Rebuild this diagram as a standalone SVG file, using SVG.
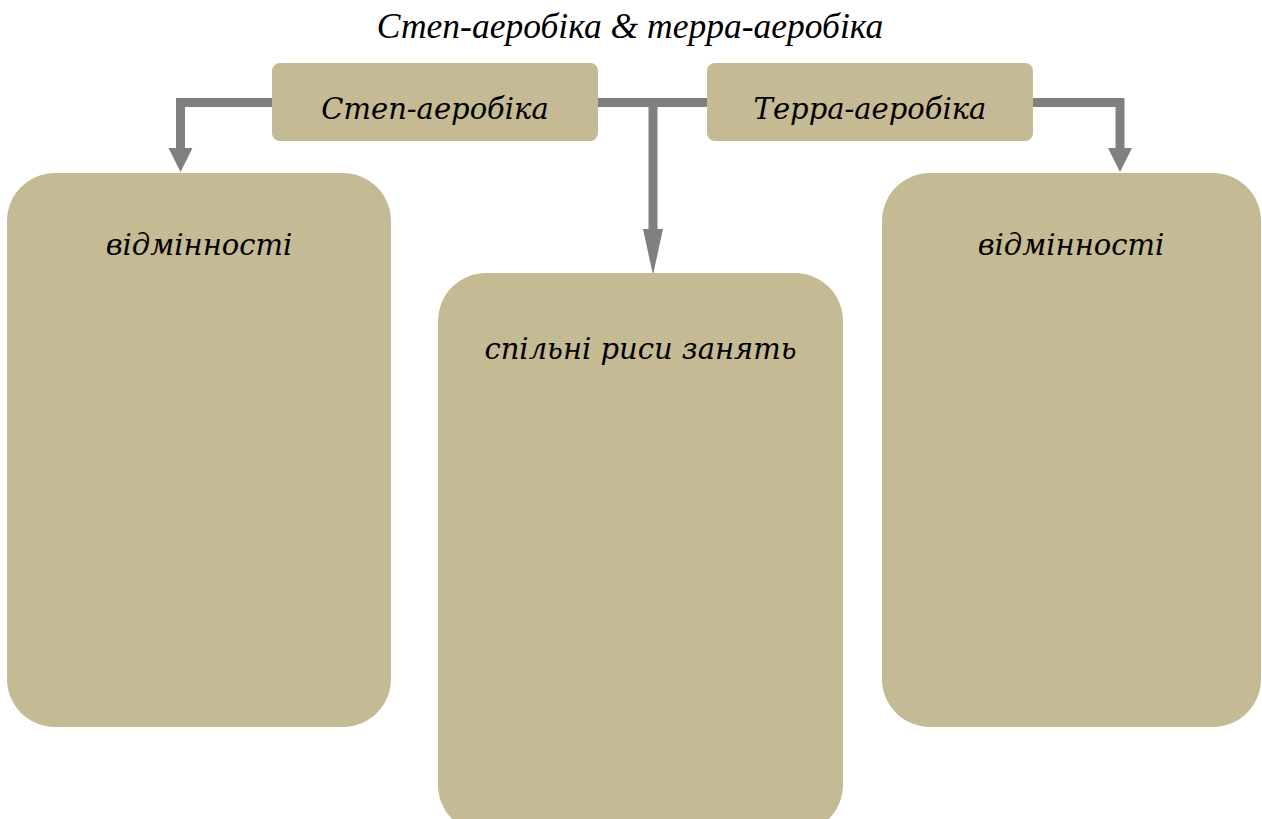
<svg xmlns="http://www.w3.org/2000/svg" width="1262" height="819" viewBox="0 0 1262 819">
  <style>
    .box { fill: #C4BA94; }
    .lbl { font-family: "DejaVu Serif", "Liberation Serif", serif; font-style: italic; font-size: 29px; fill: #000; text-anchor: middle; }
    .title { font-family: "Liberation Serif", serif; font-style: italic; font-size: 35.5px; fill: #000; text-anchor: middle; }
    .conn { fill: none; stroke: #808080; stroke-width: 9; }
    .head { fill: #808080; }
  </style>
  <rect width="1262" height="819" fill="#ffffff"/>
  <text class="title" x="630" y="38">Степ-аеробіка &amp; терра-аеробіка</text>

  <g id="connectors">
    <polyline class="conn" points="272,102.5 180.5,102.5 180.5,150"/>
    <polygon class="head" points="168.5,148 192.5,148 180.5,172"/>
    <line class="conn" x1="598" y1="102.5" x2="707" y2="102.5"/>
    <line class="conn" x1="653" y1="102.5" x2="653" y2="232"/>
    <polygon class="head" points="643,229 663,229 653,275"/>
    <polyline class="conn" points="1033,102.5 1120,102.5 1120,150"/>
    <polygon class="head" points="1108,148 1132,148 1120,172"/>
  </g>

  <g id="node-step">
    <rect class="box" x="272" y="63" width="326" height="78" rx="8"/>
    <text class="lbl" x="435" y="119">Степ-аеробіка</text>
  </g>
  <g id="node-terra">
    <rect class="box" x="707" y="63" width="326" height="78" rx="8"/>
    <text class="lbl" x="870" y="119">Терра-аеробіка</text>
  </g>
  <g id="node-diff-left">
    <rect class="box" x="7" y="173" width="384" height="554" rx="48"/>
    <text class="lbl" x="199" y="255">відмінності</text>
  </g>
  <g id="node-common">
    <rect class="box" x="438" y="273" width="405" height="560" rx="48"/>
    <text class="lbl" x="640.5" y="359">спільні риси занять</text>
  </g>
  <g id="node-diff-right">
    <rect class="box" x="882" y="173" width="379" height="554" rx="48"/>
    <text class="lbl" x="1071" y="255">відмінності</text>
  </g>
</svg>
